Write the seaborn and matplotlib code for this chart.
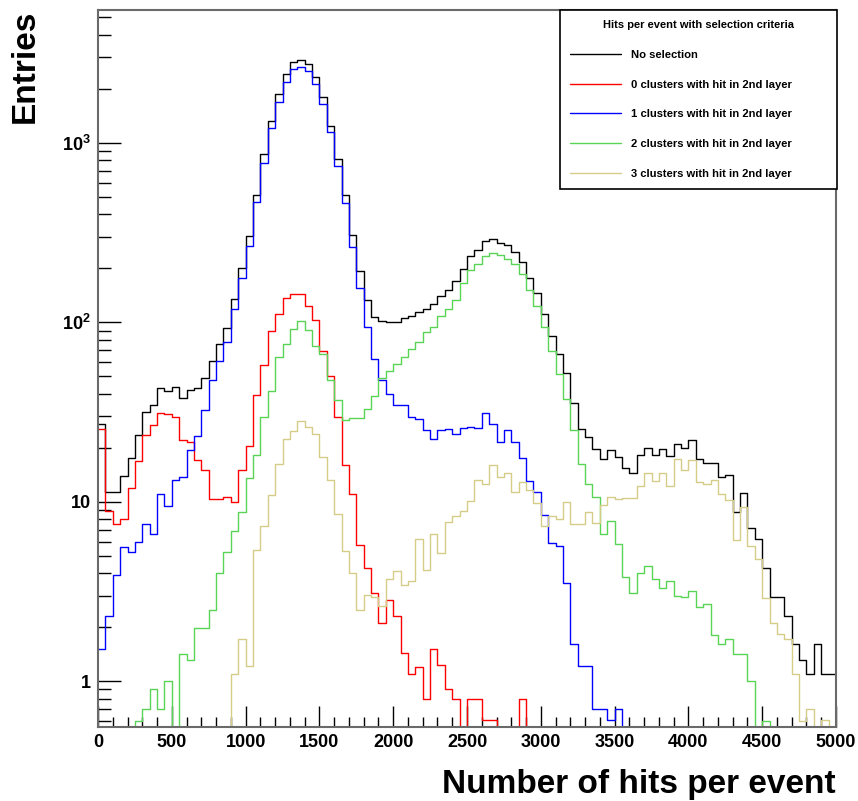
import numpy as np
import pandas as pd
import seaborn as sns
import matplotlib.pyplot as plt
from matplotlib.ticker import MultipleLocator, FixedLocator, LogLocator, FuncFormatter, NullFormatter

# 100 bins of 50 hits, 0..5000
edges = np.arange(0, 5001, 50)
centers = edges[:-1] + 25

no_selection = [
    27.3, 11.4, 11.4, 13.9, 17.6, 23.7, 31.8, 34.5, 43.3, 41.4,
    43.6, 37.9, 41.8, 43.3, 49.2, 60.8, 75.4, 93.4, 135, 201,
    301, 513, 865, 1326, 1875, 2430, 2840, 2910, 2735, 2320,
    1790, 1249, 812, 514, 308, 193, 134, 107, 101.7, 100.4,
    101, 106, 108, 114, 119, 127, 141, 152, 169, 199,
    233, 254, 284, 290, 277, 269, 246, 217, 177, 146,
    111, 84, 66.4, 52.5, 35.3, 25.3, 23.1, 19.7, 17.4, 19.5,
    17.8, 15.5, 14.5, 18.3, 19.9, 18.3, 19.8, 18.0, 20.9, 20.0,
    22.0, 17.4, 16.4, 16.4, 13.7, 14.1, 8.8, 11.2, 7.1, 6.2,
    4.25, 2.93, 2.93, 2.31, 1.62, 1.31, 1.10, 1.62, 1.10, 1.10,
]
zero_clusters = [
    25.6, 8.9, 7.5, 8.0, 11.9, 16.9, 23.7, 26.7, 31.2, 30.7,
    29.7, 22.2, 21.4, 17.2, 15.0, 10.3, 10.4, 10.6, 10.0, 15.1,
    20.5, 39.2, 58.1, 89.1, 111, 137, 144.5, 143, 123, 102.6,
    69.2, 50.2, 29.7, 16.1, 11.1, 5.72, 4.28, 3.12, 2.10, 2.83,
    2.30, 1.43, 1.10, 1.20, 0.80, 1.52, 1.23, 0.91, 0.80, 0,
    0.80, 0.80, 0.61, 0.61, 0, 0, 0, 0.80, 0, 0,
    0, 0, 0, 0, 0, 0, 0, 0, 0, 0,
    0, 0, 0, 0, 0, 0, 0, 0, 0, 0,
    0, 0, 0, 0, 0, 0, 0, 0, 0, 0,
    0, 0, 0, 0, 0, 0, 0, 0, 0, 0,
]
one_cluster = [
    1.52, 2.31, 3.93, 5.6, 5.23, 6.0, 7.56, 6.65, 11.0, 9.5,
    13.2, 13.7, 19.4, 23.2, 32.3, 48, 61, 77.3, 118.5, 175.5,
    267, 469, 777, 1213, 1679, 2190, 2590, 2660, 2515, 2134,
    1644, 1155, 742, 465, 263, 155, 93.7, 62.8, 47.5, 39.7,
    34.8, 34.8, 29.7, 28.8, 25.0, 22.5, 25.0, 25.3, 24.0, 25.9,
    26.1, 25.8, 31.2, 27.3, 21.5, 25.0, 21.5, 17.5, 13.0, 11.3,
    8.4, 5.9, 5.7, 3.53, 1.61, 1.21, 1.21, 0.70, 0.70, 0.61,
    0.70, 0, 0, 0, 0, 0, 0, 0, 0, 0,
    0, 0, 0, 0, 0, 0, 0, 0, 0, 0,
    0, 0, 0, 0, 0, 0, 0, 0, 0, 0,
]
two_clusters = [
    0, 0, 0, 0, 0, 0.60, 0.70, 0.90, 0.70, 1.0,
    0, 1.41, 1.31, 1.99, 1.99, 2.49, 4.0, 5.25, 6.9, 8.8,
    13.6, 18.2, 29.7, 41.3, 64.1, 75.6, 92.2, 101.7, 91, 73.5,
    66.9, 47.5, 36.8, 28.4, 29.3, 29.3, 33.0, 38.7, 48.9, 53.5,
    58.9, 64.1, 71.3, 78, 88.3, 94.2, 109, 118, 134, 165,
    196, 212, 233, 243, 238, 226, 212, 187, 152, 123,
    94.2, 68.9, 51.3, 37.6, 25.0, 16.3, 12.5, 10.6, 6.65, 7.82,
    5.85, 3.81, 3.12, 4.03, 4.37, 3.70, 3.31, 3.61, 2.99, 2.93,
    3.19, 2.59, 2.69, 1.82, 1.62, 1.71, 1.41, 1.41, 1.00, 0,
    0.60, 0, 0, 0, 0, 0, 0, 0, 0, 0,
]
three_clusters = [
    0, 0, 0, 0, 0, 0, 0, 0, 0, 0,
    0, 0, 0, 0, 0, 0, 0, 0, 1.10, 1.71,
    1.21, 5.4, 7.3, 10.9, 16.2, 22.5, 24.9, 28.2, 26.1, 23.8,
    17.8, 13.3, 8.5, 5.3, 4.0, 2.49, 3.01, 2.93, 2.62, 3.70,
    4.12, 3.45, 3.63, 6.2, 4.15, 6.65, 5.21, 7.71, 8.34, 8.85,
    10.1, 13.2, 12.5, 16.0, 13.7, 14.5, 11.3, 12.9, 11.7, 9.84,
    7.3, 8.3, 8.0, 10.0, 7.5, 7.55, 8.8, 7.6, 9.56, 10.6,
    10.4, 10.5, 10.5, 12.2, 14.4, 13.0, 14.4, 12.2, 17.3, 15.0,
    17.2, 12.9, 12.5, 13.2, 11.0, 10.2, 6.1, 9.35, 5.7, 4.83,
    2.91, 2.10, 1.83, 1.71, 1.10, 0.60, 0.70, 0, 0.61, 0,
]

series = [
    ("No selection", no_selection, "#000000"),
    ("0 clusters with hit in 2nd layer", zero_clusters, "#ff0000"),
    ("1 clusters with hit in 2nd layer", one_cluster, "#0000ff"),
    ("2 clusters with hit in 2nd layer", two_clusters, "#59d454"),
    ("3 clusters with hit in 2nd layer", three_clusters, "#d4cc87"),
]

sns.set_style("white")
plt.rcParams['font.family'] = ['Liberation Sans', 'DejaVu Sans']
plt.rcParams['font.weight'] = 'bold'
plt.rcParams['text.color'] = 'black'
plt.rcParams['xtick.color'] = 'black'
plt.rcParams['ytick.color'] = 'black'
plt.rcParams['mathtext.fontset'] = 'custom'
plt.rcParams['mathtext.rm'] = 'Liberation Sans:bold'
plt.rcParams['mathtext.it'] = 'Liberation Sans:bold'
plt.rcParams['mathtext.bf'] = 'Liberation Sans:bold'

fig = plt.figure(figsize=(8.58, 8.01), dpi=100)
ax = fig.add_axes([98 / 858, 1 - 727 / 801, 738 / 858, 717 / 801])

for name, vals, col in series:
    df = pd.DataFrame({"hits": centers, "entries": vals})
    sns.histplot(data=df, x="hits", weights="entries", binwidth=50, binrange=(0, 5000),
                 element="step", fill=False, color=col, linewidth=1.0, ax=ax, label=name)

ax.set_yscale("log")
ax.set_xlim(0, 5000)
ax.set_ylim(0.556, 5500)
ax.set_xlabel("")
ax.set_ylabel("")

# ROOT-like axes: inward ticks on left/bottom only
ax.xaxis.set_major_locator(MultipleLocator(500))
ax.xaxis.set_minor_locator(MultipleLocator(100))
ax.yaxis.set_major_locator(FixedLocator([1, 10, 100, 1000]))
ax.yaxis.set_minor_locator(LogLocator(base=10, subs=np.arange(2, 10), numticks=20))
ax.yaxis.set_minor_formatter(NullFormatter())


def ylab(v, pos):
    if v < 5:
        return "1"
    if v < 50:
        return "10"
    return r"$10^{%d}$" % round(np.log10(v))


ax.yaxis.set_major_formatter(FuncFormatter(ylab))
ax.tick_params(axis="both", which="both", direction="in", top=False, right=False,
               bottom=True, left=True, color="black", labelcolor="black", width=1.0)
ax.tick_params(axis="x", which="major", length=15, pad=5, labelsize=13)
ax.tick_params(axis="x", which="minor", length=7.5)
ax.tick_params(axis="y", which="major", length=16.5, pad=5, labelsize=13)
ax.tick_params(axis="y", which="minor", length=9)

for sp in ax.spines.values():
    sp.set_visible(True)
    sp.set_color("#6a6a6a")
    sp.set_linewidth(1.5)

leg = ax.legend(handles=ax.lines[:5], labels=[s[0] for s in series],
                loc="upper right", bbox_to_anchor=(0.626, 0.0, 0.376, 1.0),
                mode="expand", borderaxespad=0, fontsize=8.1,
                title="Hits per event with selection criteria",
                title_fontproperties={"size": 8.0, "weight": "bold"},
                handlelength=4.5, handletextpad=0.9, borderpad=0.9,
                labelspacing=1.75, fancybox=False, framealpha=1, edgecolor="black")
leg.get_frame().set_linewidth(1.2)

fig.text(25 / 858, 1 - 10 / 801, "Entries", rotation=90, ha="center", va="top",
         fontsize=24, fontweight="bold")
fig.text(836 / 858, 1 - 793 / 801, "Number of hits per event", ha="right", va="baseline",
         fontsize=24, fontweight="bold")

fig.savefig("out.png", dpi=100)
